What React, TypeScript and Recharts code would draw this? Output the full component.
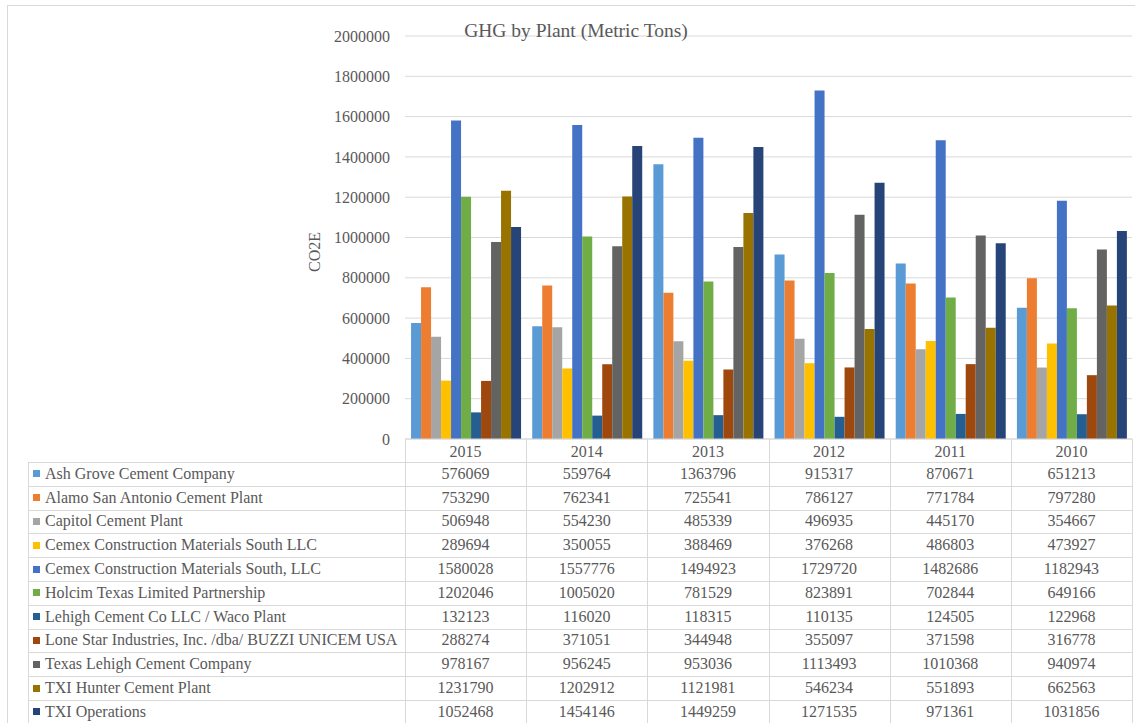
import React from 'react';
import { BarChart, Bar, XAxis, YAxis, CartesianGrid } from 'recharts';

const years = ['2015', '2014', '2013', '2012', '2011', '2010'];

const plants = [
  'Ash Grove Cement Company',
  'Alamo San Antonio Cement Plant',
  'Capitol Cement Plant',
  'Cemex Construction Materials South LLC',
  'Cemex Construction Materials South, LLC',
  'Holcim Texas Limited Partnership',
  'Lehigh Cement Co LLC / Waco Plant',
  'Lone Star Industries, Inc. /dba/ BUZZI UNICEM USA',
  'Texas Lehigh Cement Company',
  'TXI Hunter Cement Plant',
  'TXI Operations',
];

const ashGrove = [576069, 559764, 1363796, 915317, 870671, 651213];
const alamo = [753290, 762341, 725541, 786127, 771784, 797280];
const capitol = [506948, 554230, 485339, 496935, 445170, 354667];
const cemexLlc = [289694, 350055, 388469, 376268, 486803, 473927];
const cemexCommaLlc = [1580028, 1557776, 1494923, 1729720, 1482686, 1182943];
const holcim = [1202046, 1005020, 781529, 823891, 702844, 649166];
const lehighWaco = [132123, 116020, 118315, 110135, 124505, 122968];
const loneStar = [288274, 371051, 344948, 355097, 371598, 316778];
const texasLehigh = [978167, 956245, 953036, 1113493, 1010368, 940974];
const txiHunter = [1231790, 1202912, 1121981, 546234, 551893, 662563];
const txiOperations = [1052468, 1454146, 1449259, 1271535, 971361, 1031856];

const series = [
  ashGrove, alamo, capitol, cemexLlc, cemexCommaLlc, holcim,
  lehighWaco, loneStar, texasLehigh, txiHunter, txiOperations,
];

const colors = [
  '#5B9BD5', '#ED7D31', '#A5A5A5', '#FFC000', '#4472C4', '#70AD47',
  '#255E91', '#9E480E', '#636363', '#997300', '#264478',
];

const yTicks = [0, 200000, 400000, 600000, 800000, 1000000, 1200000, 1400000, 1600000, 1800000, 2000000];

const data = years.map((year, i) => {
  const row: Record<string, string | number> = { year };
  series.forEach((s, j) => {
    row[`s${j}`] = s[i];
  });
  return row;
});

const FONT = '"Liberation Serif", "Times New Roman", serif';
const GRID = '#d9d9d9';
const TEXT = '#595959';

// table geometry (px)
const PLOT_LEFT = 405;
const PLOT_RIGHT = 1132;
const TABLE_LEFT = 28;
const HEADER_TOP = 439;
const BODY_TOP = 462;
const ROW_H = 23.8;
const COL_W = (PLOT_RIGHT - PLOT_LEFT) / years.length;

const DataTable = () => {
  const lines: React.ReactNode[] = [];
  for (let i = 0; i <= plants.length; i++) {
    lines.push(
      <div key={`h${i}`} style={{
        position: 'absolute', left: TABLE_LEFT, top: BODY_TOP + i * ROW_H,
        width: PLOT_RIGHT - TABLE_LEFT, height: 1, background: GRID,
      }} />
    );
  }
  lines.push(
    <div key="vl" style={{
      position: 'absolute', left: TABLE_LEFT, top: BODY_TOP, width: 1, height: 300, background: GRID,
    }} />
  );
  for (let j = 0; j <= years.length; j++) {
    lines.push(
      <div key={`v${j}`} style={{
        position: 'absolute', left: PLOT_LEFT + j * COL_W, top: HEADER_TOP, width: 1, height: 300, background: GRID,
      }} />
    );
  }
  return (
    <>
      {lines}
      {plants.map((p, i) => (
        <React.Fragment key={p}>
          <div style={{
            position: 'absolute', left: TABLE_LEFT + 5, top: BODY_TOP + i * ROW_H,
            height: ROW_H, display: 'flex', alignItems: 'center', fontSize: 16, color: TEXT, whiteSpace: 'nowrap',
          }}>
            <span style={{ width: 7, height: 7, background: colors[i], marginRight: 5, display: 'inline-block' }} />
            {p}
          </div>
          {years.map((y, j) => (
            <div key={y} style={{
              position: 'absolute', left: PLOT_LEFT + j * COL_W, top: BODY_TOP + i * ROW_H,
              width: COL_W, height: ROW_H, display: 'flex', alignItems: 'center', justifyContent: 'center',
              fontSize: 16, color: TEXT,
            }}>
              {series[i][j]}
            </div>
          ))}
        </React.Fragment>
      ))}
    </>
  );
};

export default function App() {
  return (
    <div style={{
      position: 'absolute', left: 0, top: 0, width: 1135, height: 723, overflow: 'hidden',
      background: '#fff', fontFamily: FONT,
    }}>
      <div style={{
        position: 'absolute', left: 7, top: 5, width: 1140, height: 730, border: `1px solid ${GRID}`,
      }} />
      <DataTable />
      <div style={{ position: 'absolute', left: 0, top: 0 }}>
        <BarChart
          width={1135}
          height={470}
          data={data}
          margin={{ top: 36, right: 1135 - PLOT_RIGHT, left: 0, bottom: 0 }}
          barCategoryGap="5%"
          barGap={0}
        >
          <CartesianGrid vertical={false} stroke={GRID} />
          <XAxis
            dataKey="year"
            height={31}
            tickLine={false}
            tickSize={5}
            tickMargin={2}
            axisLine={{ stroke: GRID }}
            tick={{ fill: TEXT, fontSize: 16, fontFamily: FONT }}
          />
          <YAxis
            width={PLOT_LEFT}
            domain={[0, 2000000]}
            ticks={yTicks}
            tickLine={false}
            axisLine={false}
            tickSize={6}
            tickMargin={9}
            interval={0}
            tick={{ fill: TEXT, fontSize: 16, fontFamily: FONT }}
            label={{
              content: () => (
                <text x={320} y={252} transform="rotate(-90 320 252)" textAnchor="middle"
                  fill={TEXT} fontSize={16} fontFamily={FONT}>CO2E</text>
              ),
            }}
          />
          {plants.map((p, j) => (
            <Bar key={p} dataKey={`s${j}`} name={p} fill={colors[j]} isAnimationActive={false} />
          ))}
        </BarChart>
      </div>
      <div style={{
        position: 'absolute', left: 376, width: 400, top: 19, textAlign: 'center',
        fontSize: 19.5, color: TEXT, lineHeight: '24px',
      }}>
        GHG by Plant (Metric Tons)
      </div>
    </div>
  );
}
